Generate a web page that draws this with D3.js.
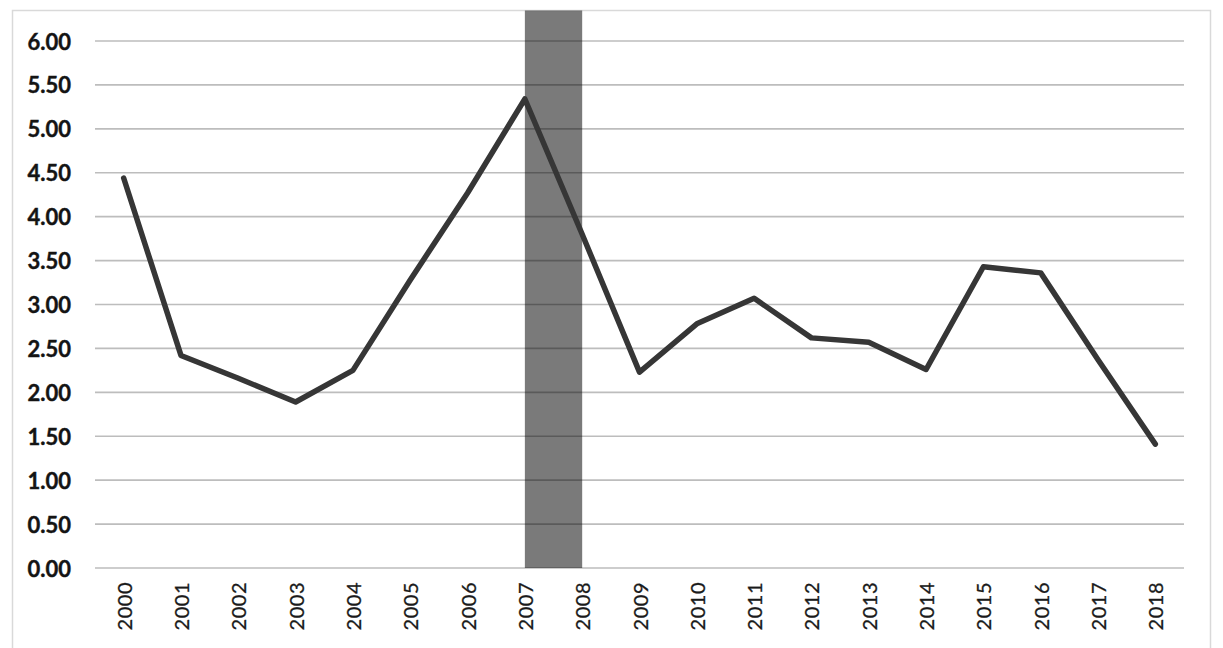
<!DOCTYPE html>
<html>
<head>
<meta charset="utf-8">
<script src="https://cdn.jsdelivr.net/npm/d3@7"></script>
<style>
  html, body { margin: 0; padding: 0; background: #ffffff; }
  svg { display: block; }
</style>
</head>
<body>
<svg id="chart" width="1223" height="648"></svg>
<script>
const years = ["2000","2001","2002","2003","2004","2005","2006","2007","2008","2009","2010","2011","2012","2013","2014","2015","2016","2017","2018"];
const values = [4.44, 2.42, 2.16, 1.89, 2.25, 3.28, 4.27, 5.34, 3.80, 2.23, 2.78, 3.07, 2.62, 2.57, 2.26, 3.43, 3.36, 2.37, 1.41];
const yTicks = [0, 0.5, 1, 1.5, 2, 2.5, 3, 3.5, 4, 4.5, 5, 5.5, 6];
const shadeRange = ["2007", "2008"];

(function () {
const svg = d3.select("#chart");
const mLeft = 95, mRight = 1184, mTop = 41, mBottom = 568;

// frame
svg.append("rect").attr("x", 12.5).attr("y", 10.5).attr("width", 1198).attr("height", 660)
  .attr("fill", "#ffffff").attr("stroke", "#d9d9d9").attr("stroke-width", 1.5);

const x = d3.scaleBand().domain(years).range([mLeft, mRight]).paddingInner(0).paddingOuter(0);
const y = d3.scaleLinear().domain([0, 6]).range([mBottom, mTop]);
const cx = d => x(d) + x.bandwidth() / 2;

// gridlines
svg.append("g").selectAll("line").data(yTicks).join("line")
  .attr("x1", mLeft).attr("x2", mRight)
  .attr("y1", d => y(d)).attr("y2", d => y(d))
  .attr("stroke", "#bdbdbd").attr("stroke-width", 1.6);

// y labels
svg.append("g").selectAll("text").data(yTicks).join("text")
  .attr("x", 71).attr("y", d => y(d))
  .attr("text-anchor", "end").attr("dominant-baseline", "central")
  .attr("font-family", "Lato, 'Open Sans', sans-serif").attr("font-weight", "bold")
  .attr("font-size", 22).attr("fill", "#141414")
  .attr("stroke", "#141414").attr("stroke-width", 0.4)
  .text(d => d3.format(".2f")(d));

// shaded band
svg.append("rect")
  .attr("x", cx(shadeRange[0]))
  .attr("width", cx(shadeRange[1]) - cx(shadeRange[0]))
  .attr("y", 10.5).attr("height", mBottom - 10.5)
  .attr("fill", "#000").attr("fill-opacity", 0.52);

// x labels
svg.append("g").selectAll("text").data(years).join("text")
  .attr("transform", d => `translate(${cx(d)},582) rotate(-90)`)
  .attr("text-anchor", "end").attr("dominant-baseline", "central")
  .attr("font-family", "Lato, 'Open Sans', sans-serif")
  .attr("font-size", 20).attr("letter-spacing", 0.5).attr("fill", "#1a1a1a")
  .attr("stroke", "#1a1a1a").attr("stroke-width", 0.3)
  .text(d => d);

// line
const line = d3.line().x((d, i) => cx(years[i])).y(d => y(d));
svg.append("path").datum(values)
  .attr("d", line)
  .attr("fill", "none").attr("stroke", "#363636").attr("stroke-width", 5.5)
  .attr("stroke-linejoin", "round").attr("stroke-linecap", "round");
})();
</script>
</body>
</html>
